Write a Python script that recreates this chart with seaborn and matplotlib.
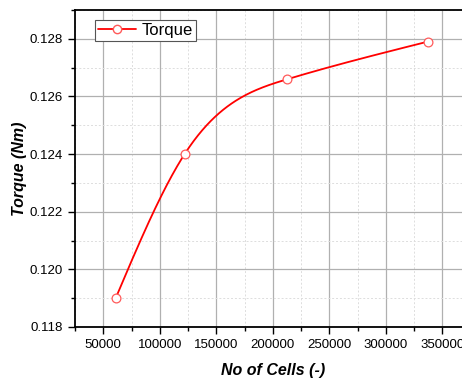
import numpy as np
import pandas as pd
import matplotlib
matplotlib.use("Agg")
import matplotlib.pyplot as plt
import seaborn as sns
from matplotlib.ticker import MultipleLocator, FormatStrFormatter
from matplotlib.lines import Line2D

cells = [61000, 122000, 213000, 337000]
torque = [0.1190, 0.1240, 0.1266, 0.1279]
series_name = "Torque"

sns.set_style("ticks")
plt.rcParams['font.family'] = ['Liberation Sans', 'DejaVu Sans']
plt.rcParams['text.color'] = 'black'
plt.rcParams['axes.labelcolor'] = 'black'
plt.rcParams['xtick.color'] = 'black'
plt.rcParams['ytick.color'] = 'black'

def natural_spline(x, y, n=300):
    x = np.asarray(x, float); y = np.asarray(y, float)
    k = len(x); h = np.diff(x)
    A = np.zeros((k, k)); b = np.zeros(k)
    A[0, 0] = A[-1, -1] = 1
    for i in range(1, k - 1):
        A[i, i - 1] = h[i - 1]; A[i, i] = 2 * (h[i - 1] + h[i]); A[i, i + 1] = h[i]
        b[i] = 3 * ((y[i + 1] - y[i]) / h[i] - (y[i] - y[i - 1]) / h[i - 1])
    c = np.linalg.solve(A, b)
    xs = np.linspace(x[0], x[-1], n); ys = np.empty_like(xs)
    for j, xv in enumerate(xs):
        i = min(np.searchsorted(x, xv, side='right') - 1, k - 2)
        d = (c[i + 1] - c[i]) / (3 * h[i])
        bb = (y[i + 1] - y[i]) / h[i] - h[i] * (2 * c[i] + c[i + 1]) / 3
        t = xv - x[i]
        ys[j] = y[i] + bb * t + c[i] * t ** 2 + d * t ** 3
    return xs, ys

df = pd.DataFrame({"cells": cells, "torque": torque})
xs, ys = natural_spline(cells, torque)
curve = pd.DataFrame({"cells": xs, "torque": ys})

fig = plt.figure(figsize=(4.62, 3.81), dpi=100)
ax = fig.add_axes([75 / 462, 1 - 327 / 381, 395.5 / 462, 317 / 381])

ax.set_xlim(25000, 375000)
ax.set_ylim(0.118, 0.129)
ax.xaxis.set_major_locator(MultipleLocator(50000))
ax.xaxis.set_minor_locator(MultipleLocator(25000))
ax.yaxis.set_major_locator(MultipleLocator(0.002))
ax.yaxis.set_minor_locator(MultipleLocator(0.001))
ax.grid(which='major', color='#b0b0b0', linewidth=0.9)
ax.grid(which='minor', color='#dddddd', linewidth=0.7, linestyle=(0, (2, 2)))
ax.set_axisbelow(True)

sns.lineplot(data=curve, x="cells", y="torque", ax=ax, color='red', linewidth=1.3, zorder=3)
sns.scatterplot(data=df, x="cells", y="torque", ax=ax, marker='o', s=40,
                facecolor='white', edgecolor='#ff5a5a', linewidth=0.9, zorder=4)

h = Line2D([], [], color='red', linewidth=1.3, marker='o', markersize=6,
           markerfacecolor='white', markeredgecolor='#ff5a5a')
leg = ax.legend([h], [series_name], loc='upper left', bbox_to_anchor=(0.05, 0.97),
                borderaxespad=0, fontsize=12, frameon=True, fancybox=False,
                framealpha=1, edgecolor='#555555', handlelength=2.3, borderpad=0.2,
                handletextpad=0.3)
leg.get_frame().set_linewidth(0.8)

ax.set_xlabel("No of Cells (-)", fontsize=11.5, fontweight='bold', fontstyle='italic', labelpad=9)
ax.set_ylabel("Torque (Nm)", fontsize=11.5, fontweight='bold', fontstyle='italic', labelpad=2)
ax.tick_params(axis='both', which='major', labelsize=9.5, length=5, width=1, direction='out')
ax.tick_params(axis='both', which='minor', length=3, width=1, direction='out')
ax.yaxis.set_major_formatter(FormatStrFormatter('%.3f'))

for s in ['left', 'bottom', 'top']:
    ax.spines[s].set_linewidth(1.3)
    ax.spines[s].set_color('black')
ax.spines['right'].set_visible(False)

fig.savefig("out.png", dpi=100)
